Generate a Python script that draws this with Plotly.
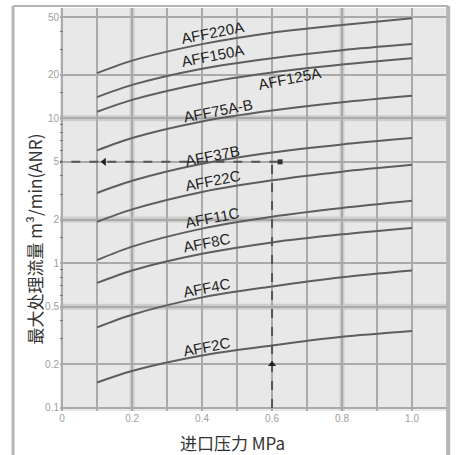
import math
import plotly.graph_objects as go

# ---- data ----
pressure = [0.1, 0.2, 0.4, 0.6, 0.8, 1.0]  # MPa
models = ["AFF220A", "AFF150A", "AFF125A", "AFF75A-B", "AFF37B",
          "AFF22C", "AFF11C", "AFF8C", "AFF4C", "AFF2C"]
aff220a = [20.5, 25.0, 32.5, 39.0, 44.0, 49.0]
aff150a = [14.0, 17.0, 22.0, 26.0, 29.5, 32.5]
aff125a = [11.1, 13.4, 17.4, 20.7, 23.5, 26.0]
aff75ab = [6.0, 7.3, 9.5, 11.3, 12.9, 14.3]
aff37b = [3.05, 3.7, 4.85, 5.8, 6.6, 7.3]
aff22c = [1.93, 2.35, 3.1, 3.73, 4.28, 4.77]
aff11c = [1.05, 1.3, 1.73, 2.09, 2.4, 2.69]
aff8c = [0.73, 0.89, 1.16, 1.39, 1.58, 1.75]
aff4c = [0.36, 0.44, 0.58, 0.69, 0.8, 0.89]
aff2c = [0.15, 0.18, 0.23, 0.27, 0.31, 0.34]
series = [aff220a, aff150a, aff125a, aff75ab, aff37b,
          aff22c, aff11c, aff8c, aff4c, aff2c]

x_tick_vals = [0, 0.2, 0.4, 0.6, 0.8, 1.0]
x_tick_text = ["0", "0.2", "0.4", "0.6", "0.8", "1.0"]
x_minor_vals = [0.1, 0.3, 0.5, 0.7, 0.9]
y_tick_vals = [0.1, 0.2, 0.5, 1, 2, 5, 10, 20, 50]
y_tick_text = ["0.1", "0.2", "0.5", "1", "2", "5", "10", "20", "50"]
y_minor_vals = [0.3, 0.4, 0.6, 0.7, 0.8, 0.9, 1.5, 3, 4, 6, 7, 8, 9, 15, 30, 40]

example_pressure = 0.6   # MPa, reading example
example_flow = 5         # m3/min

# label anchor points (data coords) for the model names
label_x = [0.43, 0.43, 0.65, 0.446, 0.43, 0.43, 0.43, 0.415, 0.415, 0.415]
label_y = [38.8, 27.3, 18.7, 11.4, 5.5, 3.7, 2.06, 1.38, 0.676, 0.265]

fig = go.Figure()

for name, vals in zip(models, series):
    fig.add_trace(go.Scatter(
        x=pressure, y=vals, mode="lines", name=name,
        line=dict(color="#5e5e5e", width=2, shape="spline", smoothing=0.8),
        showlegend=False, hoverinfo="skip"))

# reading example: dashed guides
fig.add_trace(go.Scatter(
    x=[-0.025, example_pressure + 0.02], y=[example_flow, example_flow], mode="lines",
    line=dict(color="#555555", width=2, dash="dash"), showlegend=False, cliponaxis=False))
fig.add_trace(go.Scatter(
    x=[example_pressure, example_pressure], y=[0.1, example_flow], mode="lines",
    line=dict(color="#555555", width=2, dash="dash"), showlegend=False))
fig.add_trace(go.Scatter(
    x=[0.12], y=[example_flow], mode="markers",
    marker=dict(symbol="triangle-left", size=7, color="#222222"), showlegend=False))
fig.add_trace(go.Scatter(
    x=[example_pressure], y=[0.2], mode="markers",
    marker=dict(symbol="triangle-up", size=7, color="#222222"), showlegend=False))
fig.add_trace(go.Scatter(
    x=[example_pressure + 0.023], y=[example_flow], mode="markers",
    marker=dict(symbol="square", size=5, color="#333333"), showlegend=False))

annotations = []
for name, lx, ly in zip(models, label_x, label_y):
    annotations.append(dict(
        x=lx, y=math.log10(ly), xref="x", yref="y", text=name, showarrow=False,
        xanchor="center", yanchor="middle",
        textangle=-11, font=dict(family="Liberation Sans, Arial", size=15, color="#1e1e1e")))

annotations.append(dict(
    x=0.447, y=-0.079, xref="paper", yref="paper", text="进口压力 MPa",
    xanchor="center", yanchor="middle",
    showarrow=False, font=dict(family="Noto Sans CJK SC", size=17, color="#333333")))
annotations.append(dict(
    x=-0.067, y=0.159, xref="paper", yref="paper", text="最大处理流量 m³/min(ANR)",
    xanchor="center", yanchor="bottom",
    showarrow=False, textangle=-90,
    font=dict(family="Noto Sans CJK SC", size=17, color="#333333")))

shapes = []
# thick light bands behind some gridlines
for v in [10, 2, 0.5]:
    shapes.append(dict(type="line", xref="paper", yref="y", x0=0, x1=1, y0=v, y1=v,
                       line=dict(color="#cdcdcd", width=6), layer="below"))
for v in [0.2, 0.8]:
    shapes.append(dict(type="line", xref="x", yref="paper", x0=v, x1=v, y0=0, y1=1,
                       line=dict(color="#cdcdcd", width=5), layer="below"))
# outer frame
frame = "#b5b5b5"
shapes.append(dict(type="line", xref="paper", yref="paper", x0=-0.1214, x1=-0.1214,
                   y0=-0.12, y1=1.005, line=dict(color=frame, width=3)))
shapes.append(dict(type="line", xref="paper", yref="paper", x0=-0.1214, x1=1.003,
                   y0=1.005, y1=1.005, line=dict(color=frame, width=2)))
shapes.append(dict(type="line", xref="paper", yref="paper", x0=1.003, x1=1.003,
                   y0=-0.12, y1=1.005, line=dict(color=frame, width=4)))

fig.update_layout(
    width=456, height=455,
    margin=dict(l=60, r=9, t=8, b=44),
    paper_bgcolor="white", plot_bgcolor="#e8e8e8",
    annotations=annotations, shapes=shapes,
    xaxis=dict(range=[-0.006, 1.1], tickvals=x_tick_vals, ticktext=x_tick_text,
               showgrid=True, gridcolor="#aaaaaa", gridwidth=2, zeroline=False,
               ticks="", tickfont=dict(family="Liberation Sans, Arial", size=10, color="#9e9e9e"),
               minor=dict(tickvals=x_minor_vals, showgrid=True, gridcolor="#aaaaaa",
                          gridwidth=2, ticks=""),
               showline=False),
    yaxis=dict(type="log", range=[math.log10(0.0953), math.log10(57.7)],
               tickvals=y_tick_vals, ticktext=y_tick_text,
               showgrid=True, gridcolor="#aaaaaa", gridwidth=2, zeroline=False,
               ticks="", tickfont=dict(family="Liberation Sans, Arial", size=10, color="#9e9e9e"),
               minor=dict(tickvals=y_minor_vals, ticks="inside", ticklen=3,
                          tickcolor="#777777", tickwidth=1, showgrid=False),
               showline=False),
)

fig.write_html("out.html", config={"displayModeBar": False},
               post_script="document.body.style.margin='0px';")
